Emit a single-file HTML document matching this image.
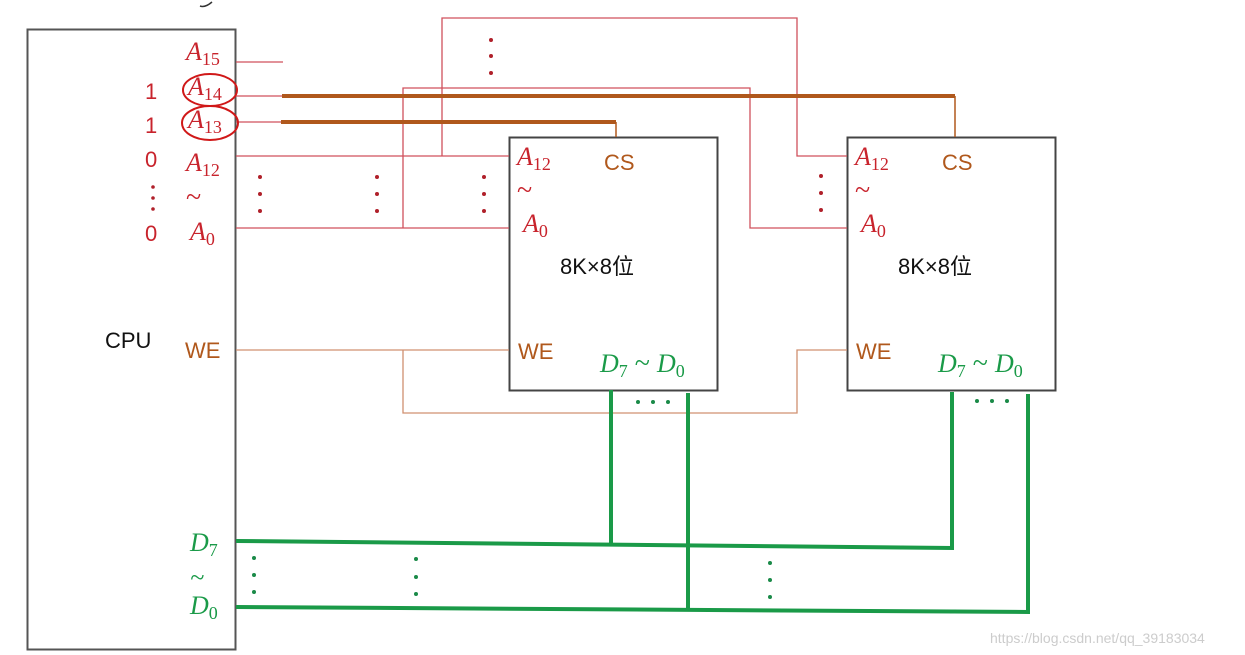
<!DOCTYPE html>
<html><head><meta charset="utf-8"><style>
html,body{margin:0;padding:0;background:#fff;}
svg{display:block}
.r{fill:#c8232c;font-family:"Liberation Serif",serif;font-style:italic;font-size:26px}
.rs{font-size:18px;font-style:normal}
.t{font-style:normal;font-size:28px}
.n{fill:#c8232c;font-family:"Liberation Sans",sans-serif;font-size:22px}
.b{fill:#b0581c;font-family:"Liberation Sans",sans-serif;font-size:22px}
.g{fill:#1a9a48;font-family:"Liberation Serif",serif;font-style:italic;font-size:26px}
.k{fill:#111;font-family:"Liberation Sans","Noto Sans CJK SC",sans-serif;font-size:22px}
</style></head><body>
<svg width="1245" height="655" viewBox="0 0 1245 655" xmlns="http://www.w3.org/2000/svg">
<rect width="1245" height="655" fill="#fff"/>
<path d="M212,2 Q205,8 200,6" stroke="#333" fill="none" stroke-width="1.5"/>
<rect x="27.5" y="29.5" width="208" height="620" fill="none" stroke="#555" stroke-width="2"/>
<rect x="509.5" y="137.5" width="208" height="253" fill="none" stroke="#444" stroke-width="2"/>
<rect x="847.5" y="137.5" width="208" height="253" fill="none" stroke="#444" stroke-width="2"/>
<g stroke="#d0505c" stroke-width="1.3" fill="none">
<path d="M236,62 H283"/>
<path d="M236,96 H282"/>
<path d="M236,122 H281"/>
<path d="M236,156 H509"/>
<path d="M442,156 V18 H797 V156 H847"/>
<path d="M236,228 H509"/>
<path d="M403,228 V88 H750 V228 H847"/>
</g>
<g stroke="#b0581c" fill="none">
<path d="M282,96 H955" stroke-width="4"/>
<path d="M281,122 H616" stroke-width="4"/>
<path d="M955,96 V137" stroke-width="1.5"/>
<path d="M616,122 V137" stroke-width="1.5"/>
<path d="M236,350 H509 M403,350 V413 H797 V350 H847" stroke="#d09070" stroke-width="1.3"/>
</g>
<g stroke="#1a9a48" stroke-width="4" fill="none">
<path d="M236,541 L952,548 V392"/>
<path d="M236,607 L1028,612 V394"/>
<path d="M611,390 V545"/>
<path d="M688,393 V609"/>
</g>
<g fill="#b0202a">
<circle cx="491" cy="40" r="2"/><circle cx="491" cy="56" r="2"/><circle cx="491" cy="73" r="2"/>
<circle cx="260" cy="177" r="2"/><circle cx="260" cy="194" r="2"/><circle cx="260" cy="211" r="2"/>
<circle cx="377" cy="177" r="2"/><circle cx="377" cy="194" r="2"/><circle cx="377" cy="211" r="2"/>
<circle cx="484" cy="177" r="2"/><circle cx="484" cy="194" r="2"/><circle cx="484" cy="211" r="2"/>
<circle cx="821" cy="176" r="2"/><circle cx="821" cy="193" r="2"/><circle cx="821" cy="210" r="2"/>
<circle cx="153" cy="187" r="1.8"/><circle cx="153" cy="198" r="1.8"/><circle cx="153" cy="209" r="1.8"/>
</g>
<g fill="#1a8a48">
<circle cx="254" cy="558" r="2"/><circle cx="254" cy="575" r="2"/><circle cx="254" cy="592" r="2"/>
<circle cx="416" cy="559" r="2"/><circle cx="416" cy="577" r="2"/><circle cx="416" cy="594" r="2"/>
<circle cx="770" cy="563" r="2"/><circle cx="770" cy="580" r="2"/><circle cx="770" cy="597" r="2"/>
<circle cx="638" cy="402" r="2"/><circle cx="653" cy="402" r="2"/><circle cx="668" cy="402" r="2"/>
<circle cx="977" cy="401" r="2"/><circle cx="992" cy="401" r="2"/><circle cx="1007" cy="401" r="2"/>
</g>
<text class="r" x="186" y="60">A<tspan class="rs" dy="5">15</tspan></text>
<text class="r" x="188" y="95">A<tspan class="rs" dy="5">14</tspan></text>
<text class="r" x="188" y="128">A<tspan class="rs" dy="5">13</tspan></text>
<text class="r" x="186" y="171">A<tspan class="rs" dy="5">12</tspan></text>
<text class="r t" x="186" y="206">~</text>
<text class="r" x="190" y="240">A<tspan class="rs" dy="5">0</tspan></text>
<ellipse cx="210" cy="90" rx="27" ry="16" fill="none" stroke="#d01818" stroke-width="2"/>
<ellipse cx="210" cy="123" rx="28" ry="17" fill="none" stroke="#d01818" stroke-width="2"/>
<text class="n" x="145" y="99">1</text>
<text class="n" x="145" y="133">1</text>
<text class="n" x="145" y="167">0</text>
<text class="n" x="145" y="241">0</text>
<text class="k" x="105" y="348">CPU</text>
<text class="b" x="185" y="358">WE</text>
<text class="g" x="190" y="551">D<tspan class="rs" dy="5">7</tspan></text>
<text class="g t" x="190" y="586">~</text>
<text class="g" x="190" y="614">D<tspan class="rs" dy="5">0</tspan></text>
<g id="chip">
<text class="r" x="517" y="165">A<tspan class="rs" dy="5">12</tspan></text>
<text class="r t" x="517" y="199">~</text>
<text class="r" x="523" y="232">A<tspan class="rs" dy="5">0</tspan></text>
<text class="b" x="604" y="170">CS</text>
<text class="k" x="560" y="274">8K×8位</text>
<text class="b" x="518" y="359">WE</text>
<text class="g" x="600" y="372">D<tspan class="rs" dy="5">7</tspan><tspan dy="-5" class="t"> ~ </tspan>D<tspan class="rs" dy="5">0</tspan></text>
</g>
<use href="#chip" x="338" y="0"/>
<text x="990" y="643" fill="#ccc" font-family="Liberation Sans,sans-serif" font-size="14">https://blog.csdn.net/qq_39183034</text>
</svg>
</body></html>
